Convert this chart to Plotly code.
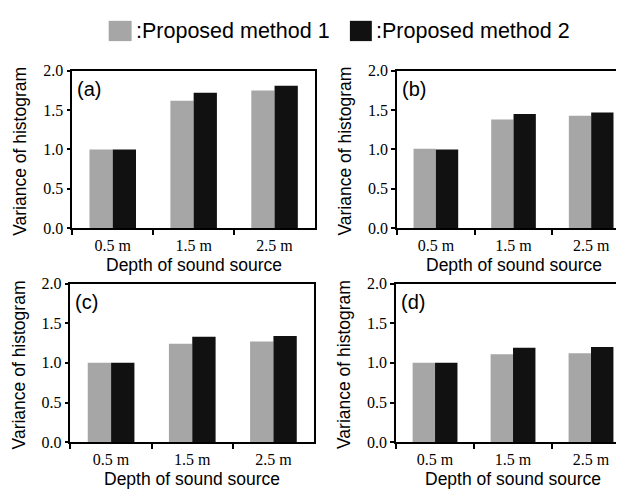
import plotly.graph_objects as go

W, H = 624, 497
OFF = 8  # page body margin offset (screen px -> figure px)

categories = ["0.5 m", "1.5 m", "2.5 m"]
series_names = ["Proposed method 1", "Proposed method 2"]
panel_labels = ["(a)", "(b)", "(c)", "(d)"]

a_method1 = [1.00, 1.62, 1.75]
a_method2 = [1.00, 1.72, 1.81]
b_method1 = [1.01, 1.38, 1.43]
b_method2 = [1.00, 1.45, 1.47]
c_method1 = [1.00, 1.24, 1.27]
c_method2 = [1.00, 1.33, 1.34]
d_method1 = [1.00, 1.11, 1.12]
d_method2 = [1.00, 1.19, 1.20]

panels = [(a_method1, a_method2), (b_method1, b_method2),
          (c_method1, c_method2), (d_method1, d_method2)]

colors = ["#a6a6a6", "#111111"]

def px_x(v):
    return (v - OFF) / W

def px_y(v):
    return 1 - (v - OFF) / H

# panel geometry in screen pixels: left, right, top, bottom
geom = [
    (72.5, 316.0, 64.7, 227.7),
    (398.3, 632.0, 64.7, 227.7),
    (70.7, 315.0, 285.0, 449.3),
    (397.3, 632.0, 285.0, 449.3),
]

fig = go.Figure()

tick_font = dict(family="Liberation Serif, Times New Roman, serif", size=16, color="#000")
title_font = dict(family="Liberation Sans, Arial, sans-serif", size=17.5, color="#000")

for i, ((m1, m2), (l, r, t, b)) in enumerate(zip(panels, geom)):
    n = i + 1
    xa = "x" if n == 1 else f"x{n}"
    ya = "y" if n == 1 else f"y{n}"
    for vals, name, col in zip((m1, m2), series_names, colors):
        fig.add_trace(go.Bar(x=categories, y=vals, name=name, marker_color=col,
                             marker_line_width=0, xaxis=xa, yaxis=ya,
                             showlegend=False))
    xkey = "xaxis" if n == 1 else f"xaxis{n}"
    ykey = "yaxis" if n == 1 else f"yaxis{n}"
    fig.layout[xkey] = dict(
        domain=[px_x(l), min(1, px_x(r))], anchor=ya, type="category", range=[-0.5, 2.5],
        showline=True, linecolor="#000", linewidth=2, mirror=True,
        ticks="outside", tickson="boundaries", ticklen=5, tickwidth=1.5,
        tickcolor="#000", tickfont=tick_font, ticklabelstandoff=2,
        showgrid=False, zeroline=False, fixedrange=True,
    )
    fig.layout[ykey] = dict(
        domain=[px_y(b), px_y(t)], anchor=xa, range=[0, 2], dtick=0.5,
        tickformat=".1f", showline=True, linecolor="#000", linewidth=1.5,
        mirror=True, ticks="outside", ticklen=4, tickwidth=1.5,
        tickcolor="#000", tickfont=tick_font, showgrid=False, zeroline=False,
        fixedrange=True,
    )
    # panel label
    fig.add_annotation(text=panel_labels[i], x=px_x(l + 3), y=px_y(t + 19),
                       xref="paper", yref="paper", xanchor="left", yanchor="middle",
                       showarrow=False,
                       font=dict(family="Liberation Sans, Arial, sans-serif", size=20, color="#000"))
    # axis titles
    fig.add_annotation(text="Variance of histogram", x=px_x(l - 52), y=px_y((t + b) / 2 + 2),
                       xref="paper", yref="paper", xanchor="center", yanchor="middle",
                       textangle=-90, showarrow=False, font=title_font)
    cx = (l + r) / 2
    fig.add_annotation(text="Depth of sound source", x=px_x(cx), y=px_y(b + 38),
                       xref="paper", yref="paper", xanchor="center", yanchor="middle",
                       showarrow=False, font=title_font)

# legend (custom)
legend_items = [(109, 132, series_names[0], colors[0]), (351, 373, series_names[1], colors[1])]
for x0, x1, name, col in legend_items:
    fig.add_shape(type="rect", xref="paper", yref="paper",
                  x0=px_x(x0), x1=px_x(x1), y0=px_y(34), y1=px_y(13),
                  fillcolor=col, line_width=0)
    fig.add_annotation(text=":" + name, x=px_x(x1 + 2), y=px_y(24),
                       xref="paper", yref="paper", xanchor="left", yanchor="middle",
                       showarrow=False,
                       font=dict(family="Liberation Sans, Arial, sans-serif", size=21.5, color="#000"))

fig.update_layout(
    width=W, height=H, margin=dict(l=0, r=0, t=0, b=0),
    paper_bgcolor="white", plot_bgcolor="white",
    barmode="group", bargap=0.425, bargroupgap=0,
    showlegend=False,
)

fig.write_html("out.html", config={"displayModeBar": False})
